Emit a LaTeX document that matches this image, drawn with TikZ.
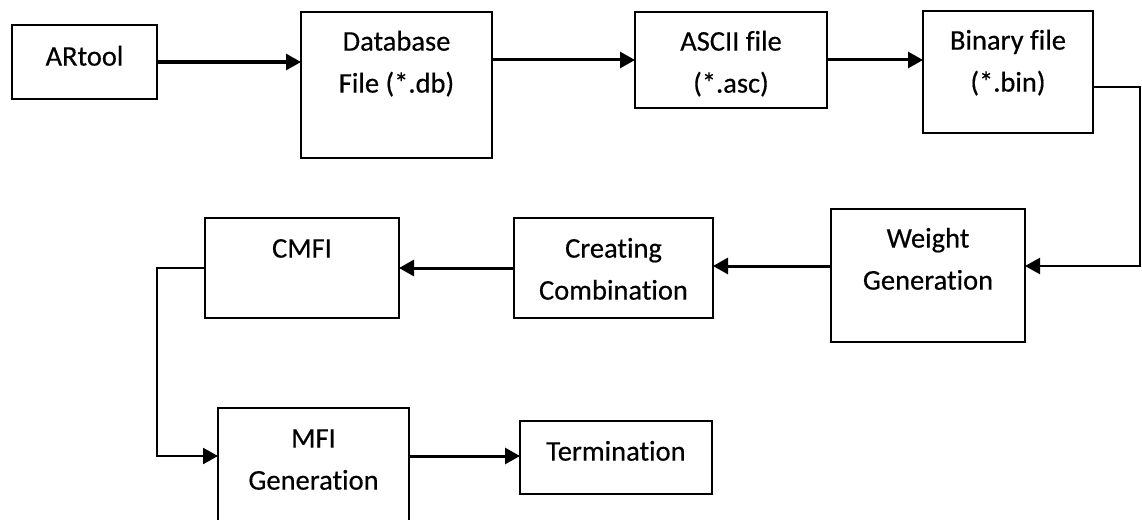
\documentclass[tikz,border=0pt]{standalone}
\usepackage{fontspec}
\setmainfont{Carlito}[Ligatures=NoCommon, FakeBold=0.4]
\usetikzlibrary{arrows.meta}

\tikzset{
  box/.style={draw=black, line width=2.2pt, fill=none, anchor=north west,
    inner sep=0pt, outer sep=0pt},
  txt/.style={anchor=north, inner sep=0pt, align=center, text=black,
    font=\fontsize{28.5}{42}\selectfont},
  flow/.style={line width=3pt, -{Triangle[length=15pt, width=16pt]}},
  elbowarrow/.style={line width=2.4pt, -{Triangle[length=15pt, width=16pt]}},
}

\begin{document}
\begin{tikzpicture}[x=1pt, y=-1pt]
  \useasboundingbox (0,0) rectangle (1142,519);
  \fill[white] (0,0) rectangle (1142,519);
  \clip (0,0) rectangle (1142,519);

  % process boxes
  \node[box, minimum width=145pt, minimum height=74pt]  (ar)   at (12,25)  {};
  \node[box, minimum width=191pt, minimum height=146pt] (db)   at (301,12) {};
  \node[box, minimum width=192pt, minimum height=96pt]  (asc)  at (635,12) {};
  \node[box, minimum width=170pt, minimum height=122pt] (bin)  at (923,11) {};
  \node[box, minimum width=194pt, minimum height=133pt] (wg)   at (831,209) {};
  \node[box, minimum width=199pt, minimum height=100pt] (cc)   at (514,218) {};
  \node[box, minimum width=194pt, minimum height=100pt] (cmfi) at (205,218) {};
  \node[box, minimum width=191pt, minimum height=140pt] (mfi)  at (218,408) {};
  \node[box, minimum width=192pt, minimum height=73pt]  (term) at (520,421) {};

  % box captions
  \node[txt] (ar-t)   at ([yshift=-11pt]ar.north)   {\strut ARtool};
  \node[txt] (db-t)   at ([yshift=-9pt]db.north)    {\strut Database\\File (*.db)};
  \node[txt] (asc-t)  at ([yshift=-9pt]asc.north)   {\strut ASCII file\\(*.asc)};
  \node[txt] (bin-t)  at ([yshift=-9pt]bin.north)   {\strut Binary file\\(*.bin)};
  \node[txt] (wg-t)   at ([yshift=-9pt]wg.north)    {\strut Weight\\Generation};
  \node[txt] (cc-t)   at ([yshift=-10pt]cc.north)   {\strut Creating\\Combination};
  \node[txt] (cmfi-t) at ([yshift=-10pt]cmfi.north) {\strut CMFI};
  \node[txt] (mfi-t)  at ([yshift=-10pt]mfi.north)  {\strut MFI\\Generation};
  \node[txt] (term-t) at ([yshift=-10pt]term.north) {\strut Termination};

  % routing points for the elbow connectors
  \coordinate (k2) at (1140,87);
  \coordinate (k3) at (1140,266);
  \coordinate (k1) at (157,456);

  % connectors
  \draw[flow] (ar.east) -- (ar.east -| db.west);
  \draw[flow] (asc.west -| db.east) -- (asc.west);
  \draw[flow] (asc.east) -- (asc.east -| bin.west);
  \draw[elbowarrow] (k2 -| bin.east) -- (k2) -- (k3) -- (k3 -| wg.east);
  \draw[flow] (k3 -| wg.west) -- (k3 -| cc.east);
  \draw[flow] (cc.west) -- (cmfi.east);
  \draw[elbowarrow] (cmfi.west) -| (k1) -- (k1 -| mfi.west);
  \draw[flow] (k1 -| mfi.east) -- (k1 -| term.west);
\end{tikzpicture}
\end{document}
